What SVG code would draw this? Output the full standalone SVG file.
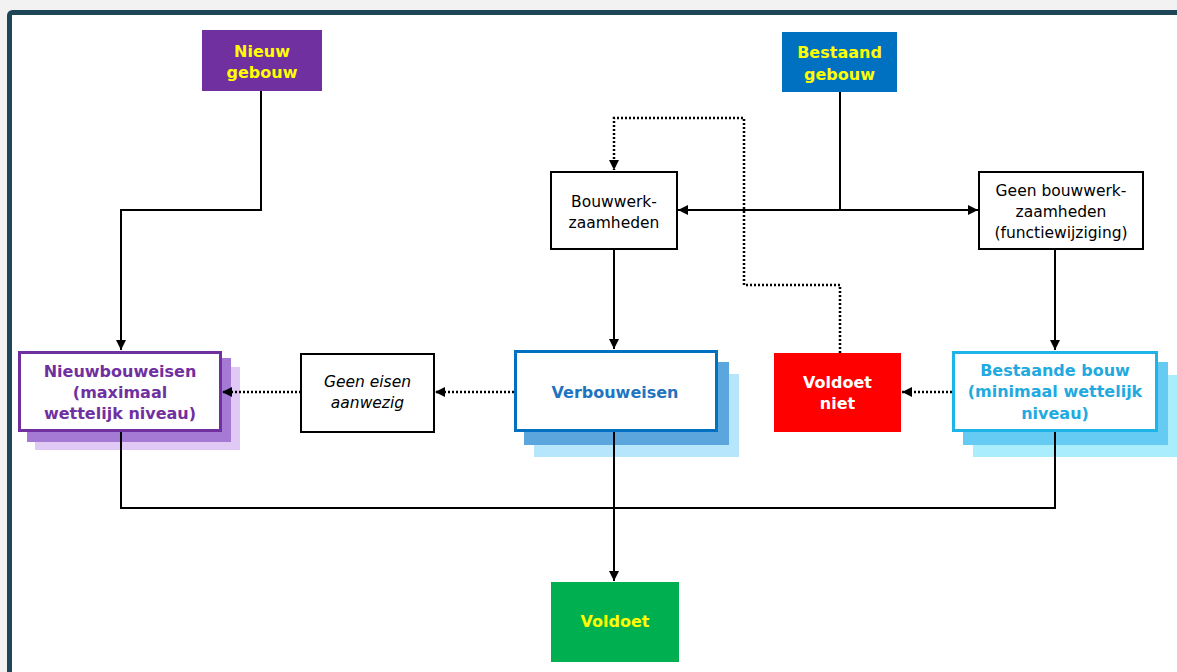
<svg xmlns="http://www.w3.org/2000/svg" width="1177" height="672" viewBox="0 0 1177 672">
<defs>
<style>
.t{font-family:"DejaVu Sans",Verdana,sans-serif;font-size:15.5px;text-anchor:middle}
.b{font-weight:bold;font-size:16px}
.y{fill:#ffff00}
.w{fill:#ffffff}
.k{fill:#000000}
.box{fill:#ffffff;stroke:#000000;stroke-width:2}
.ln{fill:none;stroke:#000000;stroke-width:2}
.dt{fill:none;stroke:#000000;stroke-width:2.5;stroke-dasharray:2 2}
</style>
<marker id="ah" markerWidth="10" markerHeight="10" viewBox="0 0 10 10" refX="10" refY="5" orient="auto" markerUnits="userSpaceOnUse">
<path d="M0,0 L10,5 L0,10 Z" fill="#000"/>
</marker>
</defs>
<rect x="0" y="0" width="1177" height="672" fill="#f2f2f2"/>
<rect x="9.5" y="12.5" width="1200" height="700" rx="3" fill="#ffffff" stroke="#1f4657" stroke-width="5"/>

<g id="nieuw-gebouw">
<rect x="202" y="30" width="120" height="61" fill="#7030a0"/>
<text class="t b y" x="262" y="57">Nieuw</text>
<text class="t b y" x="262" y="78">gebouw</text>
</g>

<g id="bestaand-gebouw">
<rect x="782" y="32" width="115" height="60" fill="#0070c0"/>
<text class="t b y" x="839.5" y="58">Bestaand</text>
<text class="t b y" x="839.5" y="80">gebouw</text>
</g>

<g id="bouwwerkzaamheden">
<rect class="box" x="551" y="172" width="126" height="77"/>
<text class="t k" x="614" y="207">Bouwwerk-</text>
<text class="t k" x="614" y="228">zaamheden</text>
</g>

<g id="geen-bouwwerkzaamheden">
<rect class="box" x="979" y="172" width="164" height="77"/>
<text class="t k" x="1061" y="196">Geen bouwwerk-</text>
<text class="t k" x="1061" y="217">zaamheden</text>
<text class="t k" x="1061" y="238">(functiewijziging)</text>
</g>

<g id="nieuwbouweisen">
<rect x="35" y="367" width="205" height="83" fill="#e0c9f5"/>
<rect x="27" y="358" width="204" height="84" fill="#a57ad4"/>
<rect x="19.5" y="352.5" width="201" height="78" fill="#ffffff" stroke="#7030a0" stroke-width="3"/>
<text class="t b" fill="#7030a0" x="120" y="377">Nieuwbouweisen</text>
<text class="t b" fill="#7030a0" x="120" y="398">(maximaal</text>
<text class="t b" fill="#7030a0" x="120" y="419">wettelijk niveau)</text>
</g>

<g id="geen-eisen">
<rect class="box" x="301" y="354" width="133" height="78"/>
<text class="t k" font-style="italic" x="367.5" y="387">Geen eisen</text>
<text class="t k" font-style="italic" x="367.5" y="408">aanwezig</text>
</g>

<g id="verbouweisen">
<rect x="534" y="374" width="205" height="83" fill="#b5e6fc"/>
<rect x="524" y="362" width="205" height="83" fill="#5ca6de"/>
<rect x="515.5" y="351.5" width="201" height="79" fill="#ffffff" stroke="#0070c0" stroke-width="3"/>
<text class="t b" fill="#1f74bf" x="615" y="398">Verbouweisen</text>
</g>

<g id="voldoet-niet">
<rect x="774" y="353" width="127" height="79" fill="#ff0000"/>
<text class="t b w" x="837.5" y="388">Voldoet</text>
<text class="t b w" x="837.5" y="409">niet</text>
</g>

<g id="bestaande-bouw">
<rect x="973" y="375" width="210" height="82" fill="#aaeefe"/>
<rect x="963" y="362" width="205" height="83" fill="#66cbf2"/>
<rect x="953.5" y="352.5" width="203" height="78" fill="#ffffff" stroke="#1eb4e8" stroke-width="3"/>
<text class="t b" fill="#22a9e0" x="1055" y="376">Bestaande bouw</text>
<text class="t b" fill="#22a9e0" x="1055" y="397">(minimaal wettelijk</text>
<text class="t b" fill="#22a9e0" x="1055" y="419">niveau)</text>
</g>

<g id="voldoet">
<rect x="551" y="582" width="128" height="80" fill="#00b050"/>
<text class="t b y" x="615" y="627">Voldoet</text>
</g>

<g id="connectors">
<polyline class="ln" points="261,91 261,210 121,210 121,350" marker-end="url(#ah)"/>
<line class="ln" x1="840" y1="92" x2="840" y2="210"/>
<line class="ln" x1="840" y1="210" x2="678" y2="210" marker-end="url(#ah)"/>
<line class="ln" x1="840" y1="210" x2="978" y2="210" marker-end="url(#ah)"/>
<line class="ln" x1="614" y1="249" x2="614" y2="349" marker-end="url(#ah)"/>
<line class="ln" x1="1055" y1="249" x2="1055" y2="350" marker-end="url(#ah)"/>
<polyline class="dt" points="840,353 840,285 744,285 744,118 614,118 614,170" marker-end="url(#ah)"/>
<line class="dt" x1="952" y1="392" x2="902" y2="392" marker-end="url(#ah)"/>
<line class="dt" x1="514" y1="392" x2="435" y2="392" marker-end="url(#ah)"/>
<line class="dt" x1="301" y1="392" x2="222" y2="392" marker-end="url(#ah)"/>
<polyline class="ln" points="121,432 121,508 1055,508 1055,432"/>
<line class="ln" x1="614" y1="432" x2="614" y2="581" marker-end="url(#ah)"/>
</g>
</svg>
